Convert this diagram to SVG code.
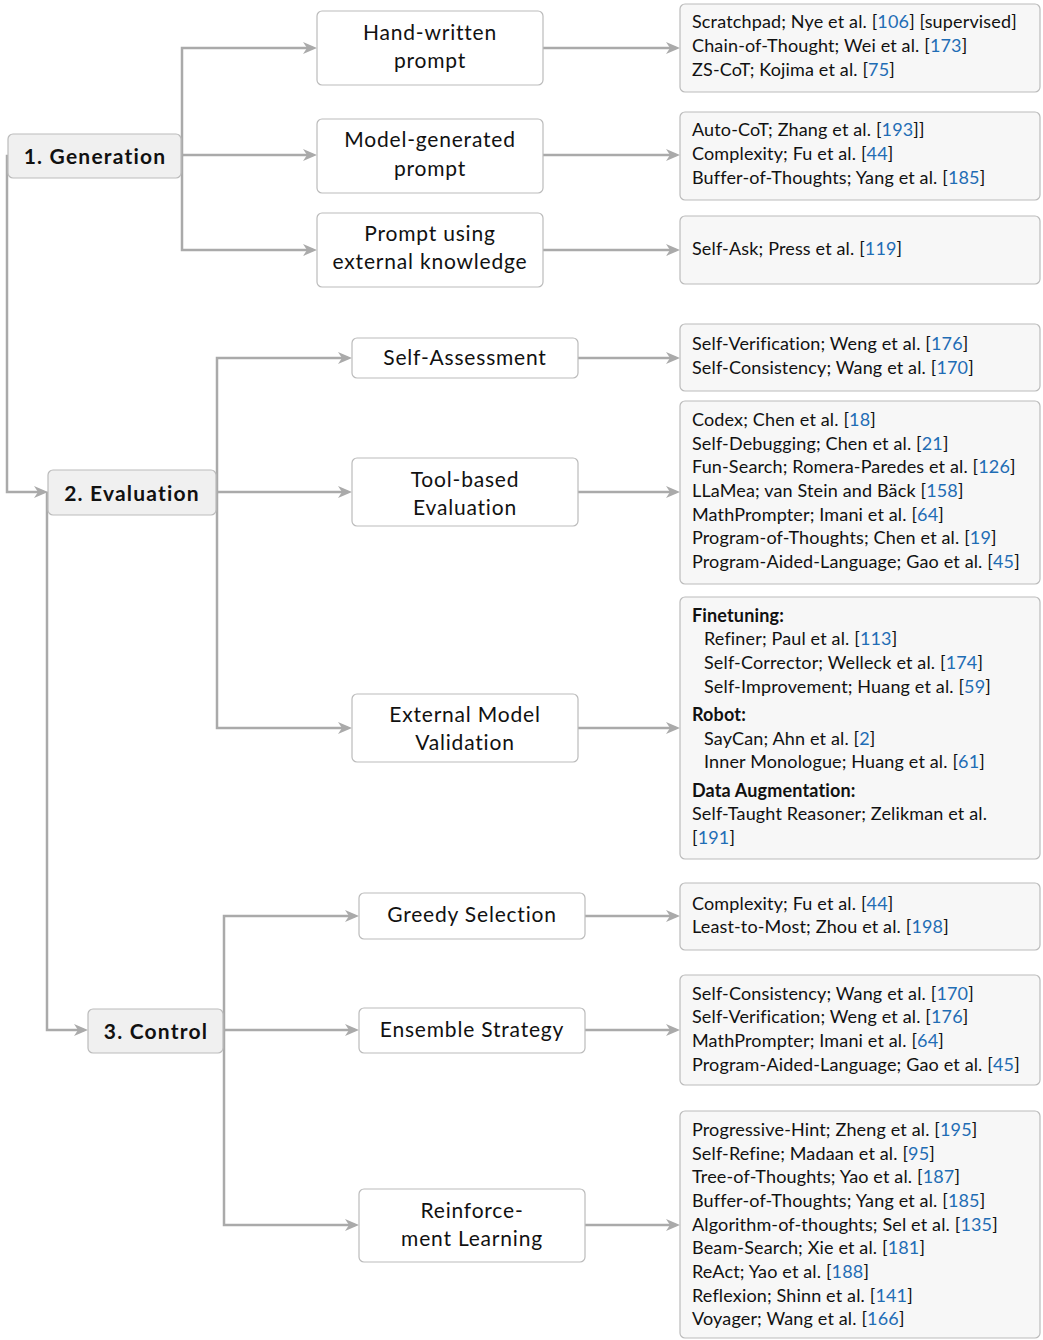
<svg xmlns="http://www.w3.org/2000/svg" width="1043" height="1340" viewBox="0 0 1043 1340">
  <defs>
    <marker id="arrow" markerUnits="userSpaceOnUse" markerWidth="16" markerHeight="14" refX="10" refY="6" orient="auto">
      <path d="M0,0 L14,6 L0,12 L4,6 Z" fill="#aaaaaa"/>
    </marker>
    <style>
      .wire { fill: none; stroke: #aaaaaa; stroke-width: 2.5; marker-end: url(#arrow); }
      .cat rect { fill: #f0f0f0; stroke: #bbbbbb; stroke-width: 1.2; }
      .cat text { font-family: Lato, "Liberation Sans", sans-serif; font-weight: bold; font-size: 21px; letter-spacing: 1.2px; fill: #111; text-anchor: middle; }
      .mid rect { fill: #ffffff; stroke: #bbbbbb; stroke-width: 1.2; }
      .mid text { font-family: Lato, "Liberation Sans", sans-serif; font-size: 21px; letter-spacing: 0.8px; fill: #111; text-anchor: middle; }
      .ref rect { fill: #f7f7f7; stroke: #bbbbbb; stroke-width: 1.2; }
      .ref text { font-family: Lato, "Liberation Sans", sans-serif; font-size: 18px; letter-spacing: 0.15px; fill: #111; }
      .ref .b { font-weight: bold; }
      .c { fill: #1f6db5; }
    </style>
  </defs>

  <rect width="1043" height="1340" fill="#ffffff"/>

  <!-- connectors -->
  <g id="connectors">
    <path class="wire" d="M8,156 H7 V492 H44"/>
    <path class="wire" d="M48,493 H47 V1030 H84"/>

    <path class="wire" d="M181,155 H182 V48 H313"/>
    <path class="wire" d="M181,155 H313"/>
    <path class="wire" d="M182,155 V250 H313"/>
    <path class="wire" d="M543,48 H676"/>
    <path class="wire" d="M543,155 H676"/>
    <path class="wire" d="M543,250 H676"/>

    <path class="wire" d="M216,492 H217 V358 H348"/>
    <path class="wire" d="M216,492 H348"/>
    <path class="wire" d="M217,492 V728 H348"/>
    <path class="wire" d="M578,358 H676"/>
    <path class="wire" d="M578,492 H676"/>
    <path class="wire" d="M578,728 H676"/>

    <path class="wire" d="M223,1030 H224 V916 H355"/>
    <path class="wire" d="M223,1030 H355"/>
    <path class="wire" d="M224,1030 V1225 H355"/>
    <path class="wire" d="M585,916 H676"/>
    <path class="wire" d="M585,1030 H676"/>
    <path class="wire" d="M585,1225 H676"/>
  </g>

  <!-- top-level stages -->
  <g id="generation" class="cat">
    <rect x="8" y="134" width="173" height="44" rx="5"/>
    <text x="95" y="164">1. Generation</text>
  </g>
  <g id="evaluation" class="cat">
    <rect x="48" y="470" width="168" height="45" rx="5"/>
    <text x="132" y="501">2. Evaluation</text>
  </g>
  <g id="control" class="cat">
    <rect x="88" y="1009" width="135" height="44" rx="5"/>
    <text x="156" y="1039">3. Control</text>
  </g>

  <!-- generation methods -->
  <g id="hand-written" class="mid">
    <rect x="317" y="11" width="226" height="74" rx="5"/>
    <text x="430" y="40">Hand-written</text>
    <text x="430" y="68">prompt</text>
  </g>
  <g id="model-generated" class="mid">
    <rect x="317" y="119" width="226" height="74" rx="5"/>
    <text x="430" y="147">Model-generated</text>
    <text x="430" y="176">prompt</text>
  </g>
  <g id="external-knowledge" class="mid">
    <rect x="317" y="213" width="226" height="74" rx="5"/>
    <text x="430" y="241">Prompt using</text>
    <text x="430" y="269">external knowledge</text>
  </g>

  <!-- evaluation methods -->
  <g id="self-assessment" class="mid">
    <rect x="352" y="338" width="226" height="40" rx="5"/>
    <text x="465" y="365">Self-Assessment</text>
  </g>
  <g id="tool-based" class="mid">
    <rect x="352" y="458" width="226" height="68" rx="5"/>
    <text x="465" y="487">Tool-based</text>
    <text x="465" y="515">Evaluation</text>
  </g>
  <g id="external-model" class="mid">
    <rect x="352" y="694" width="226" height="68" rx="5"/>
    <text x="465" y="722">External Model</text>
    <text x="465" y="750">Validation</text>
  </g>

  <!-- control methods -->
  <g id="greedy" class="mid">
    <rect x="359" y="893" width="226" height="46" rx="5"/>
    <text x="472" y="922">Greedy Selection</text>
  </g>
  <g id="ensemble" class="mid">
    <rect x="359" y="1008" width="226" height="45" rx="5"/>
    <text x="472" y="1037">Ensemble Strategy</text>
  </g>
  <g id="reinforcement" class="mid">
    <rect x="359" y="1189" width="226" height="73" rx="5"/>
    <text x="472" y="1218">Reinforce-</text>
    <text x="472" y="1246">ment Learning</text>
  </g>

  <!-- reference lists -->
  <g id="refs-hand-written" class="ref">
    <rect x="680" y="4" width="360" height="88" rx="5"/>
    <text x="692" y="28">Scratchpad; Nye et al. [<tspan class="c">106</tspan>] [supervised]</text>
    <text x="692" y="52">Chain-of-Thought; Wei et al. [<tspan class="c">173</tspan>]</text>
    <text x="692" y="76">ZS-CoT; Kojima et al. [<tspan class="c">75</tspan>]</text>
  </g>
  <g id="refs-model-generated" class="ref">
    <rect x="680" y="112" width="360" height="88" rx="5"/>
    <text x="692" y="136">Auto-CoT; Zhang et al. [<tspan class="c">193</tspan>]]</text>
    <text x="692" y="160">Complexity; Fu et al. [<tspan class="c">44</tspan>]</text>
    <text x="692" y="184">Buffer-of-Thoughts; Yang et al. [<tspan class="c">185</tspan>]</text>
  </g>
  <g id="refs-external-knowledge" class="ref">
    <rect x="680" y="216" width="360" height="68" rx="5"/>
    <text x="692" y="255">Self-Ask; Press et al. [<tspan class="c">119</tspan>]</text>
  </g>

  <g id="refs-self-assessment" class="ref">
    <rect x="680" y="324" width="360" height="67" rx="5"/>
    <text x="692" y="350">Self-Verification; Weng et al. [<tspan class="c">176</tspan>]</text>
    <text x="692" y="374">Self-Consistency; Wang et al. [<tspan class="c">170</tspan>]</text>
  </g>
  <g id="refs-tool-based" class="ref">
    <rect x="680" y="401" width="360" height="183" rx="5"/>
    <text x="692" y="426">Codex; Chen et al. [<tspan class="c">18</tspan>]</text>
    <text x="692" y="450">Self-Debugging; Chen et al. [<tspan class="c">21</tspan>]</text>
    <text x="692" y="473">Fun-Search; Romera-Paredes et al. [<tspan class="c">126</tspan>]</text>
    <text x="692" y="497">LLaMea; van Stein and Bäck [<tspan class="c">158</tspan>]</text>
    <text x="692" y="521">MathPrompter; Imani et al. [<tspan class="c">64</tspan>]</text>
    <text x="692" y="544">Program-of-Thoughts; Chen et al. [<tspan class="c">19</tspan>]</text>
    <text x="692" y="568">Program-Aided-Language; Gao et al. [<tspan class="c">45</tspan>]</text>
  </g>
  <g id="refs-external-model" class="ref">
    <rect x="680" y="597" width="360" height="262" rx="5"/>
    <text class="b" x="692" y="622">Finetuning:</text>
    <text x="704" y="645">Refiner; Paul et al. [<tspan class="c">113</tspan>]</text>
    <text x="704" y="669">Self-Corrector; Welleck et al. [<tspan class="c">174</tspan>]</text>
    <text x="704" y="693">Self-Improvement; Huang et al. [<tspan class="c">59</tspan>]</text>
    <text class="b" x="692" y="721">Robot:</text>
    <text x="704" y="745">SayCan; Ahn et al. [<tspan class="c">2</tspan>]</text>
    <text x="704" y="768">Inner Monologue; Huang et al. [<tspan class="c">61</tspan>]</text>
    <text class="b" x="692" y="797">Data Augmentation:</text>
    <text x="692" y="820">Self-Taught Reasoner; Zelikman et al.</text>
    <text x="692" y="844">[<tspan class="c">191</tspan>]</text>
  </g>

  <g id="refs-greedy" class="ref">
    <rect x="680" y="883" width="360" height="67" rx="5"/>
    <text x="692" y="910">Complexity; Fu et al. [<tspan class="c">44</tspan>]</text>
    <text x="692" y="933">Least-to-Most; Zhou et al. [<tspan class="c">198</tspan>]</text>
  </g>
  <g id="refs-ensemble" class="ref">
    <rect x="680" y="975" width="360" height="110" rx="5"/>
    <text x="692" y="1000">Self-Consistency; Wang et al. [<tspan class="c">170</tspan>]</text>
    <text x="692" y="1023">Self-Verification; Weng et al. [<tspan class="c">176</tspan>]</text>
    <text x="692" y="1047">MathPrompter; Imani et al. [<tspan class="c">64</tspan>]</text>
    <text x="692" y="1071">Program-Aided-Language; Gao et al. [<tspan class="c">45</tspan>]</text>
  </g>
  <g id="refs-reinforcement" class="ref">
    <rect x="680" y="1111" width="360" height="227" rx="5"/>
    <text x="692" y="1136">Progressive-Hint; Zheng et al. [<tspan class="c">195</tspan>]</text>
    <text x="692" y="1160">Self-Refine; Madaan et al. [<tspan class="c">95</tspan>]</text>
    <text x="692" y="1183">Tree-of-Thoughts; Yao et al. [<tspan class="c">187</tspan>]</text>
    <text x="692" y="1207">Buffer-of-Thoughts; Yang et al. [<tspan class="c">185</tspan>]</text>
    <text x="692" y="1231">Algorithm-of-thoughts; Sel et al. [<tspan class="c">135</tspan>]</text>
    <text x="692" y="1254">Beam-Search; Xie et al. [<tspan class="c">181</tspan>]</text>
    <text x="692" y="1278">ReAct; Yao et al. [<tspan class="c">188</tspan>]</text>
    <text x="692" y="1302">Reflexion; Shinn et al. [<tspan class="c">141</tspan>]</text>
    <text x="692" y="1325">Voyager; Wang et al. [<tspan class="c">166</tspan>]</text>
  </g>
</svg>
